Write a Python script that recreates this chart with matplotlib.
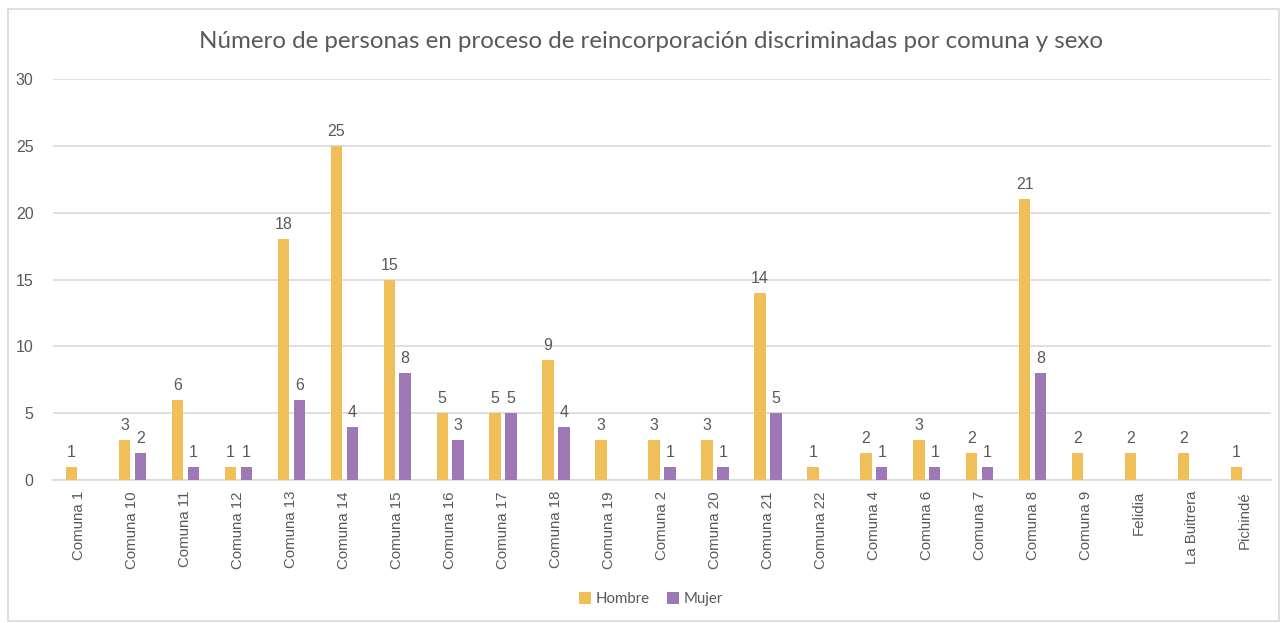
import numpy as np
import matplotlib
matplotlib.use("Agg")
import matplotlib.pyplot as plt
from matplotlib.patches import Rectangle

categories = ["Comuna 1", "Comuna 10", "Comuna 11", "Comuna 12", "Comuna 13", "Comuna 14",
              "Comuna 15", "Comuna 16", "Comuna 17", "Comuna 18", "Comuna 19", "Comuna 2",
              "Comuna 20", "Comuna 21", "Comuna 22", "Comuna 4", "Comuna 6", "Comuna 7",
              "Comuna 8", "Comuna 9", "Felidia", "La Buitrera", "Pichindé"]
hombre = [1, 3, 6, 1, 18, 25, 15, 5, 5, 9, 3, 3, 3, 14, 1, 2, 3, 2, 21, 2, 2, 2, 1]
mujer = [None, 2, 1, 1, 6, 4, 8, 3, 5, 4, None, 1, 1, 5, None, 1, 1, 1, 8, None, None, None, None]
yticks = [0, 5, 10, 15, 20, 25, 30]
title = "Número de personas en proceso de reincorporación discriminadas por comuna y sexo"

c_h = "#F1BF5A"
c_m = "#9E78B5"
txt = "#595959"
grid = "#D9D9D9"

W, H = 1282, 623
fig = plt.figure(figsize=(W / 100, H / 100), dpi=100)
fig.patch.set_facecolor("white")
fig.patches.append(Rectangle((8 / W, 1 - 621 / H), 1271 / W, 612 / H, transform=fig.transFigure,
                             fill=False, edgecolor=grid, linewidth=1.2))

ax = fig.add_axes([53 / W, 1 - 480 / H, (1271 - 53) / W, (480 - 79) / H])
x = np.arange(len(categories))
bw = 0.215
off = 0.15
hv = np.array(hombre, dtype=float)
mv = np.array([np.nan if v is None else v for v in mujer], dtype=float)
ax.bar(x - off, hv, bw, color=c_h, label="Hombre", zorder=3)
ax.bar(x + off, np.nan_to_num(mv), bw, color=c_m, label="Mujer", zorder=3)

for xi, v in zip(x, hv):
    ax.annotate(f"{int(v)}", (xi - off, v), xytext=(0, 5), textcoords="offset points",
                ha="center", va="bottom", fontsize=11.5, color=txt, family="Liberation Sans")
for xi, v in zip(x, mv):
    if not np.isnan(v):
        ax.annotate(f"{int(v)}", (xi + off, v), xytext=(0, 5), textcoords="offset points",
                    ha="center", va="bottom", fontsize=11.5, color=txt, family="Liberation Sans")

ax.set_xlim(-0.5, len(categories) - 0.5)
ax.set_ylim(0, 30)
ax.set_yticks(yticks)
ax.set_xticks(x)
ax.set_xticklabels(categories, rotation=90, fontsize=10.8, color=txt, family="Liberation Sans")
for lab in ax.get_yticklabels():
    lab.set_fontsize(11.5)
    lab.set_color(txt)
    lab.set_family("Liberation Sans")
ax.tick_params(axis="both", length=0)
ax.tick_params(axis="y", pad=14)
ax.tick_params(axis="x", pad=8)
ax.grid(axis="y", color=grid, linewidth=1.2, zorder=0)
for s in ["top", "right", "left"]:
    ax.spines[s].set_visible(False)
ax.spines["bottom"].set_color(grid)
ax.spines["bottom"].set_linewidth(1.2)

fig.text(651 / W, 1 - 42 / H, title, ha="center", va="center", fontsize=17.4, color=txt, family="Lato")

leg = fig.legend(loc="center", bbox_to_anchor=(651 / W, 1 - 599 / H), ncol=2, frameon=False,
                 handlelength=0.8, handleheight=0.8, handletextpad=0.3,
                 columnspacing=1.2, prop={"family": "Lato", "size": 10.8})
for t in leg.get_texts():
    t.set_color(txt)

fig.savefig("out.png", dpi=100, facecolor="white")
